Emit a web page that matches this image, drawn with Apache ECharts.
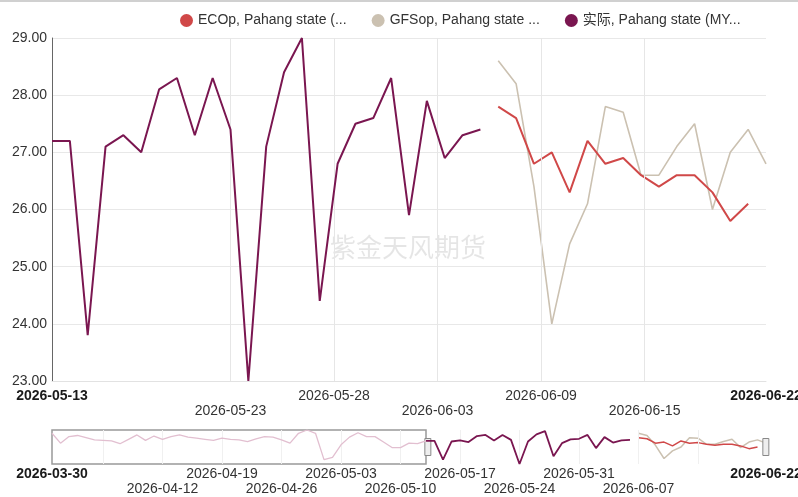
<!DOCTYPE html>
<html><head><meta charset="utf-8">
<script src="https://cdn.jsdelivr.net/npm/echarts@6/dist/echarts.min.js"></script>
<style>html,body{margin:0;padding:0;background:#fff}#c{width:798px;height:497px}</style>
</head><body><div id="c"></div>
<script>
// ---------------- data ----------------
const seriesNames = ['ECOp, Pahang state (MYR/kg)', 'GFSop, Pahang state (MYR/kg)', '实际, Pahang state (MYR/kg)'];
const legendLabels = ['ECOp, Pahang state (...', 'GFSop, Pahang state ...', '实际, Pahang state (MY...'];
const seriesColors = ['#d04848', '#cbc1b1', '#7a1650'];

// 实际 (actual), daily from 2026-03-30 to 2026-06-06
const actualStart = '2026-03-30';
const actualValues = [
  28.6, 26.8, 28.0, 28.2, 27.8, 27.4, 27.3, 27.2, 26.7, 27.5,
  28.3, 27.3, 28.1, 27.5, 28.0, 28.3, 27.9, 27.7, 27.5, 27.3,
  27.7, 27.5, 27.4, 27.1, 27.6, 28.0, 27.9, 27.4, 26.8, 28.6,
  29.2, 28.6, 23.8, 24.2, 26.5, 27.9, 28.7, 28.0, 28.0, 27.0,
  26.0, 26.0, 26.8, 26.7,
  27.2, 27.2, 23.8, 27.1, 27.3, 27.0, 28.1, 28.3, 27.3, 28.3,
  27.4, 23.0, 27.1, 28.4, 29.0, 24.4, 26.8, 27.5, 27.6, 28.3,
  25.9, 27.9, 26.9, 27.3, 27.4
];
// forecasts, daily from 2026-06-07
const forecastStart = '2026-06-07';
const gfsopValues = [28.6, 28.2, 26.4, 24.0, 25.4, 26.1, 27.8, 27.7, 26.6, 26.6, 27.1, 27.5, 26.0, 27.0, 27.4, 26.8];
const ecopValues  = [27.8, 27.6, 26.8, 27.0, 26.3, 27.2, 26.8, 26.9, 26.6, 26.4, 26.6, 26.6, 26.3, 25.8, 26.1];

// visible window of the main chart
const windowStart = '2026-05-13';
const windowEnd = '2026-06-22';

// tick labels
const yTickLabels = ['23.00', '24.00', '25.00', '26.00', '27.00', '28.00', '29.00'];
const mainTickLabels = ['2026-05-13', '2026-05-23', '2026-05-28', '2026-06-03', '2026-06-09', '2026-06-15', '2026-06-22'];
const navTickLabels = ['2026-03-30', '2026-04-12', '2026-04-19', '2026-04-26', '2026-05-03', '2026-05-10',
                       '2026-05-17', '2026-05-24', '2026-05-31', '2026-06-07', '2026-06-22'];
const watermarkText = '紫金天风期货';

// ---------------- helpers ----------------
const DAY = 86400000;
function T(s) { const p = s.split('-').map(Number); return Date.UTC(p[0], p[1] - 1, p[2]); }
function D(ts) { return new Date(ts).toISOString().slice(0, 10); }
function pairs(start, vals) { const t0 = T(start); return vals.map((v, i) => [t0 + i * DAY, v]); }

const actualData = pairs(actualStart, actualValues);
const gfsopData = pairs(forecastStart, gfsopValues);
const ecopData = pairs(forecastStart, ecopValues);
const wS = T(windowStart), wE = T(windowEnd);
const actualFaded = actualData.filter(d => d[0] <= wS);
const actualActive = actualData.filter(d => d[0] >= wS);

const FONT = "'Liberation Sans', Arial, 'Noto Sans CJK SC', sans-serif";

function labelFormatter(list) {
  return function (value) {
    const s = D(value);
    const i = list.indexOf(s);
    const bold = (i === 0 || i === list.length - 1);
    const txt = bold ? '{b|' + s + '}' : '{n|' + s + '}';
    return (i % 2 === 1 ? '\n' : '') + txt;
  };
}
const richStyle = {
  b: { fontWeight: 'bold', color: '#1a1a1a', fontSize: 14, lineHeight: 15, fontFamily: FONT },
  n: { color: '#333', fontSize: 14, lineHeight: 15, fontFamily: FONT }
};

// main axis inner grid lines (days after window start)
const mainGridDays = [10, 15.8, 21.6, 27.4, 33.2];
const mainGridValues = mainGridDays.map(d => wS + d * DAY);
const mainLabelValues = [wS].concat(mainGridValues).concat([wE]);
const navGridValues = [];
for (let t = T('2026-04-05'); t <= T('2026-06-14'); t += 7 * DAY) navGridValues.push(t);
const navLabelValues = navTickLabels.map(T);

function gridLines(xIdx, yIdx, values, color) {
  return {
    type: 'line', xAxisIndex: xIdx, yAxisIndex: yIdx, data: [], z: 1, silent: true,
    markLine: {
      silent: true, symbol: ['none', 'none'], animation: false,
      label: { show: false },
      lineStyle: { color: color, type: 'solid', width: 1 },
      emphasis: { disabled: true },
      data: values.map(v => ({ xAxis: v }))
    }
  };
}

const chart = echarts.init(document.getElementById('c'), null, { renderer: 'canvas' });
const option = {
  animation: false,
  backgroundColor: '#fff',
  textStyle: { fontFamily: FONT },
  color: seriesColors,
  legend: {
    data: seriesNames.map(n => ({ name: n, icon: 'circle' })),
    left: 175, top: 8.5,
    itemWidth: 13, itemHeight: 13, itemGap: 25,
    textStyle: { fontSize: 14, color: '#333', fontFamily: FONT },
    formatter: name => legendLabels[seriesNames.indexOf(name)]
  },
  graphic: [
    { type: 'rect', left: 0, top: 0, shape: { width: 798, height: 2 }, style: { fill: '#d0d0d0' }, silent: true },
    { type: 'text', left: 330, top: 234, silent: true, z: 0,
      style: { text: watermarkText, fontSize: 26, fill: 'rgba(0,0,0,0.10)', fontFamily: "'Noto Sans CJK SC', sans-serif" } }
  ],
  grid: [
    { left: 52, right: 32, top: 38, bottom: 116, outerBoundsMode: 'none', containLabel: false },
    { left: 52, right: 32, top: 430, height: 34, outerBoundsMode: 'none', containLabel: false }
  ],
  xAxis: [
    {
      type: 'value', gridIndex: 0, min: 'dataMin', max: 'dataMax',
      axisLine: { show: true, onZero: false, lineStyle: { color: '#e2e2e2' } },
      axisTick: { show: false },
      splitLine: { show: false },
      axisLabel: {
        customValues: mainLabelValues, margin: 8, lineHeight: 15, fontSize: 14,
        formatter: labelFormatter(mainTickLabels), rich: richStyle
      }
    },
    {
      type: 'value', gridIndex: 1, min: 'dataMin', max: 'dataMax',
      axisLine: { show: false, onZero: false },
      axisTick: { show: false },
      splitLine: { show: false },
      axisLabel: {
        customValues: navLabelValues, margin: 3, lineHeight: 15, fontSize: 14,
        formatter: labelFormatter(navTickLabels), rich: richStyle
      }
    }
  ],
  yAxis: [
    {
      type: 'value', gridIndex: 0, min: 23, max: 29, interval: 1,
      axisLine: { show: true, lineStyle: { color: '#666' } },
      axisTick: { show: false },
      splitLine: { show: true, lineStyle: { color: '#e8e8e8' } },
      axisLabel: { margin: 5, fontSize: 14, color: '#333', formatter: v => yTickLabels[Math.round(v - 23)] }
    },
    {
      type: 'value', gridIndex: 1, min: 'dataMin', max: 'dataMax',
      show: false, splitLine: { show: false }
    }
  ],
  dataZoom: [{
    type: 'slider', xAxisIndex: 0, startValue: wS, endValue: wE,
    left: 52, right: 32, top: 430, height: 34,
    showDataShadow: false, showDetail: false, brushSelect: false, moveHandleSize: 0,
    backgroundColor: 'transparent', fillerColor: 'transparent', borderColor: 'transparent',
    handleIcon: 'path://M0,0 L6,0 L6,17 L0,17 Z', handleSize: 17,
    handleStyle: { color: '#eeeeee', borderColor: '#888', borderWidth: 1 },
    emphasis: { handleStyle: { color: '#eeeeee', borderColor: '#666' } }
  }],
  series: [
    gridLines(0, 0, mainGridValues, '#e6e6e6'),
    gridLines(1, 1, navGridValues, '#f0f0f0'),
    { name: seriesNames[0], type: 'line', xAxisIndex: 0, yAxisIndex: 0, data: ecopData, z: 4,
      showSymbol: false, symbol: 'none', lineStyle: { width: 2, color: seriesColors[0] }, itemStyle: { color: seriesColors[0] } },
    { name: seriesNames[1], type: 'line', xAxisIndex: 0, yAxisIndex: 0, data: gfsopData, z: 3,
      showSymbol: false, symbol: 'none', lineStyle: { width: 1.6, color: seriesColors[1] }, itemStyle: { color: seriesColors[1] } },
    { name: seriesNames[2], type: 'line', xAxisIndex: 0, yAxisIndex: 0, data: actualData, z: 5,
      showSymbol: false, symbol: 'none', lineStyle: { width: 2, color: seriesColors[2] }, itemStyle: { color: seriesColors[2] } },
    // navigator
    { name: seriesNames[0], type: 'line', xAxisIndex: 1, yAxisIndex: 1, data: ecopData, z: 4,
      showSymbol: false, symbol: 'none', lineStyle: { width: 1.5, color: seriesColors[0] } },
    { name: seriesNames[1], type: 'line', xAxisIndex: 1, yAxisIndex: 1, data: gfsopData, z: 3,
      showSymbol: false, symbol: 'none', lineStyle: { width: 1.5, color: seriesColors[1] } },
    { name: seriesNames[2], type: 'line', xAxisIndex: 1, yAxisIndex: 1, data: actualActive, z: 5,
      showSymbol: false, symbol: 'none', lineStyle: { width: 1.8, color: seriesColors[2] } },
    { name: seriesNames[2], type: 'line', xAxisIndex: 1, yAxisIndex: 1, data: actualFaded, z: 5,
      showSymbol: false, symbol: 'none', lineStyle: { width: 1.3, color: '#e2bfd0' },
      markArea: {
        silent: true,
        itemStyle: { color: 'rgba(0,0,0,0)', borderColor: '#999', borderWidth: 1.5 },
        data: [[{ xAxis: T(actualStart) }, { xAxis: wS }]]
      } }
  ]
};
chart.setOption(option);
</script>
</body></html>
